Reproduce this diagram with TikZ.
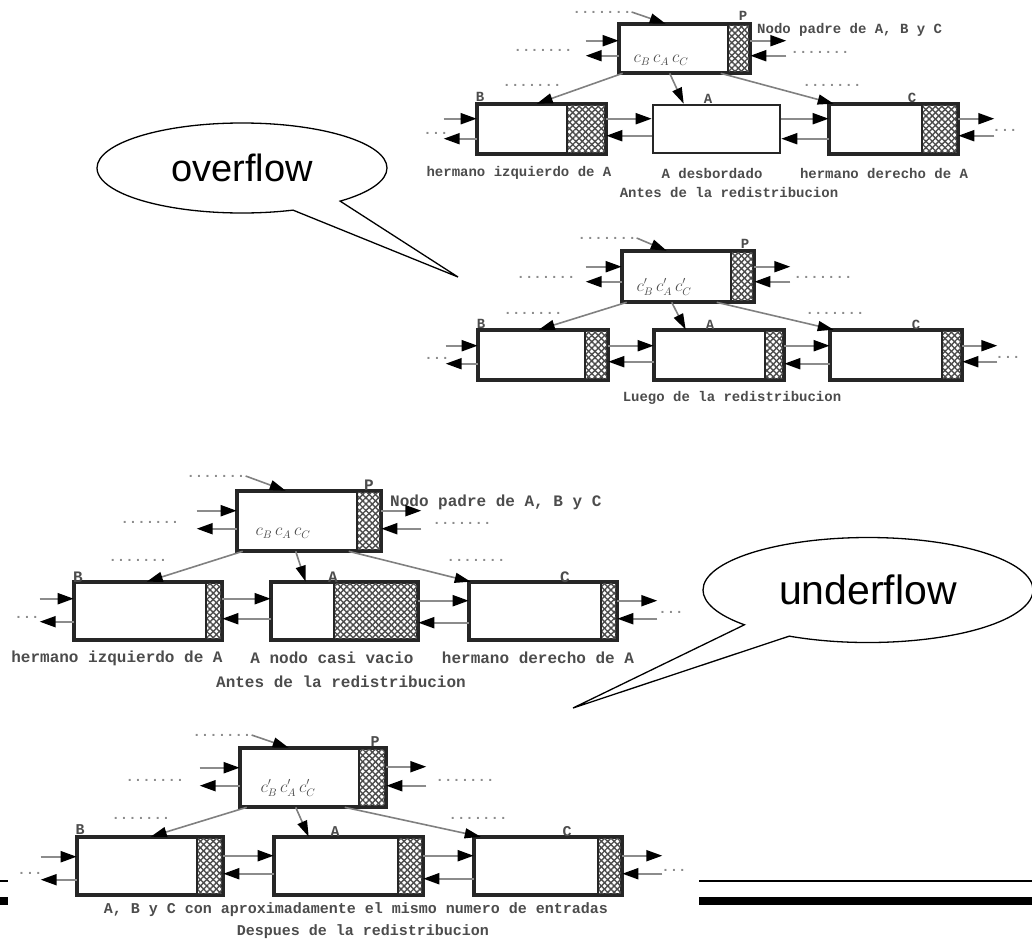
\documentclass[tikz,border=0pt]{standalone}
\usepackage{fontspec}
\newfontfamily\monof{Liberation Mono}
\newfontfamily\arialf{Liberation Sans}
\usetikzlibrary{arrows.meta,patterns.meta,fit,shapes.callouts}
\tikzset{
  boxline/.style={draw=black!85, line width=2.6pt},
  rec/.style={boxline, fill=white, inner sep=0pt},
  lnk/.style={draw=black!45, line width=2pt, -{Triangle[length=16pt,width=11pt,color=black]}},
  ptr/.style={draw=black!50, line width=1.6pt, -{Triangle[length=16pt,width=10pt,color=black]}},
  lbl/.style={font=\monof\bfseries\fontsize{14}{14}\selectfont, text=black!70, inner sep=0pt},
  lblb/.style={font=\monof\bfseries\fontsize{16}{16}\selectfont, text=black!70, inner sep=0pt},
  lblc/.style={font=\monof\bfseries\fontsize{15}{15}\selectfont, text=black!70, inner sep=0pt},
  dotsl/.style={font=\monof\bfseries\fontsize{14}{14}\selectfont, text=black!45, inner sep=0pt},
  cl/.style={font=\fontsize{16}{16}\selectfont, text=black!70, inner sep=0pt},
  bubble/.style={ellipse callout, draw=black, line width=1.3pt, fill=white, inner sep=0pt,
    font=\arialf\fontsize{38}{38}\selectfont},
}
\newcommand\hatchpart[2]{%
  \fill[pattern={Lines[angle=45,distance=4.5pt,line width=1.4pt]},pattern color=black!70] (#1.north -| #2,0) rectangle (#1.south east);
  \fill[pattern={Lines[angle=-45,distance=4.5pt,line width=1.4pt]},pattern color=black!70] (#1.north -| #2,0) rectangle (#1.south east);
  \draw[boxline] (#1.north -| #2,0) -- (#1.south -| #2,0);
  \draw[boxline] (#1.north west) rectangle (#1.south east);}
\newcommand\leftio[4]{%
  \draw[lnk] ([xshift=-#4pt,yshift=-#2pt]#1.north west) -- ([yshift=-#2pt]#1.north west);
  \draw[lnk] ([yshift=-#3pt]#1.north west) -- ([xshift=-#4pt,yshift=-#3pt]#1.north west);}
\newcommand\rightio[4]{%
  \draw[lnk] ([yshift=-#2pt]#1.north east) -- ([xshift=#4pt,yshift=-#2pt]#1.north east);
  \draw[lnk] ([xshift=#4pt,yshift=-#3pt]#1.north east) -- ([yshift=-#3pt]#1.north east);}
\newcommand\betweenio[4]{%
  \draw[lnk] ([yshift=-#3pt]#1.north east) -- ([yshift=-#3pt]#2.north west);
  \draw[lnk] ([yshift=-#4pt]#2.north west) -- ([yshift=-#4pt]#1.north east);}
\begin{document}
\begin{tikzpicture}[x=1pt,y=-1pt]
\useasboundingbox (0,0) rectangle (1032,940);

% ================= Diagram 1 =================
\node[rec, fit={(620,25) (749,72)}] (p1) {};
\node[rec, fit={(478,105) (605,153)}] (b1) {};
\node[rec, fit={(653,105) (780,153)}] (a1) {};
\node[rec, fit={(830,105) (957,153)}] (c1) {};
\hatchpart{p1}{728}
\hatchpart{b1}{567}
\hatchpart{c1}{922}
\node[lbl] (p1l) at (743,16) {P};
\node[lbl, anchor=west] (p1t) at (757,30) {Nodo padre de A, B y C};
\node[lbl] (b1l) at (480,97) {B};
\node[lbl] (a1l) at (708,99) {A};
\node[lbl] (c1l) at (912,98) {C};
\node[cl] (p1c) at (661,60) {$c_B\,c_A\,c_C$};
\node[dotsl] (d1a) at (602,12) {.......};
\node[dotsl] (d1b) at (543,50) {.......};
\node[dotsl] (d1c) at (820,52) {.......};
\node[dotsl] (d1d) at (532,85) {.......};
\node[dotsl] (d1e) at (832,85) {.......};
\node[dotsl] (d1f) at (436,133) {...};
\node[dotsl] (d1g) at (1005,130) {...};
\draw[ptr] (d1a.east) -- ([xshift=47pt]p1.north west);
\leftio{p1}{17}{32}{33}
\rightio{p1}{17}{32}{36}
\leftio{b1}{15}{35}{33}
\betweenio{b1}{a1}{15}{32}
\betweenio{a1}{c1}{15}{35}
\rightio{c1}{15}{32}{36}
\draw[ptr] ([xshift=4pt]p1.south west) -- ([xshift=60pt]b1.north west);
\draw[ptr] ([xshift=51pt]p1.south west) -- ([xshift=32pt]a1.north west);
\draw[ptr] ([xshift=102pt]p1.south west) -- ([xshift=5pt]c1.north west);
\node[lbl] (cap1a) at (519,173) {hermano izquierdo de A};
\node[lbl] (cap1b) at (712,173) {A desbordado};
\node[lbl] (cap1c) at (884,173) {hermano derecho de A};
\node[lbl] (cap1d) at (729,192) {Antes de la redistribucion};

% ================= Diagram 2 =================
\node[rec, fit={(623,252) (753,301)}] (p2) {};
\node[rec, fit={(479,331) (607,379)}] (b2) {};
\node[rec, fit={(655,331) (783,379)}] (a2) {};
\node[rec, fit={(831,331) (961,379)}] (c2) {};
\hatchpart{p2}{731}
\hatchpart{b2}{585}
\hatchpart{a2}{765}
\hatchpart{c2}{942}
\node[lbl] (p2l) at (745,244) {P};
\node[lbl] (b2l) at (481,324) {B};
\node[lbl] (a2l) at (710,325) {A};
\node[lbl] (c2l) at (916,325) {C};
\node[cl] (p2c) at (664,287) {$c'_B\,c'_A\,c'_C$};
\node[dotsl] (d2a) at (607,238) {.......};
\node[dotsl] (d2b) at (546,277) {.......};
\node[dotsl] (d2c) at (823,277) {.......};
\node[dotsl] (d2d) at (533,313) {.......};
\node[dotsl] (d2e) at (835,313) {.......};
\node[dotsl] (d2f) at (437,358) {...};
\node[dotsl] (d2g) at (1008,357) {...};
\draw[ptr] (d2a.east) -- ([xshift=45pt]p2.north west);
\leftio{p2}{16}{31}{36}
\rightio{p2}{16}{31}{36}
\leftio{b2}{16}{34}{32}
\betweenio{b2}{a2}{16}{32}
\betweenio{a2}{c2}{16}{34}
\rightio{c2}{16}{32}{35}
\draw[ptr] ([xshift=5pt]p2.south west) -- ([xshift=61pt]b2.north west);
\draw[ptr] ([xshift=50pt]p2.south west) -- ([xshift=32pt]a2.north west);
\draw[ptr] ([xshift=95pt]p2.south west) -- ([xshift=4pt]c2.north west);
\node[lbl] (cap2) at (732,398) {Luego de la redistribucion};

% ================= overflow bubble =================
\node[bubble, minimum width=290pt, minimum height=90pt,
  callout absolute pointer={(458,277)}, callout pointer arc=22] (ov) at (242,168) {overflow};

% ================= Diagram 3 =================
\node[rec, fit={(238,492) (380,550)}] (p3) {};
\node[rec, fit={(75,583) (221,639)}] (b3) {};
\node[rec, fit={(272,583) (417,639)}] (a3) {};
\node[rec, fit={(470,583) (616,639)}] (c3) {};
\hatchpart{p3}{357}
\hatchpart{b3}{206}
\hatchpart{a3}{334}
\hatchpart{c3}{601}
\node[lblb] (p3l) at (369,485) {P};
\node[lblb, anchor=west] (p3t) at (390,502) {Nodo padre de A, B y C};
\node[lblb] (b3l) at (78,577) {B};
\node[lblb] (a3l) at (333,577) {A};
\node[lblb] (c3l) at (565,577) {C};
\node[cl] (p3c) at (283,533) {$c_B\,c_A\,c_C$};
\node[dotsl] (d3a) at (216,476) {.......};
\node[dotsl] (d3b) at (150,522) {.......};
\node[dotsl] (d3c) at (462,523) {.......};
\node[dotsl] (d3d) at (138,560) {.......};
\node[dotsl] (d3e) at (476,560) {.......};
\node[dotsl] (d3f) at (27,617) {...};
\node[dotsl] (d3g) at (671,612) {...};
\draw[ptr] (d3a.east) -- ([xshift=49pt]p3.north west);
\leftio{p3}{20}{38}{40}
\rightio{p3}{20}{38}{40}
\leftio{b3}{17}{40}{34}
\betweenio{b3}{a3}{17}{37}
\betweenio{a3}{c3}{19}{41}
\rightio{c3}{19}{37}{40}
\draw[ptr] ([xshift=6pt]p3.south west) -- ([xshift=73pt]b3.north west);
\draw[ptr] ([xshift=59pt]p3.south west) -- ([xshift=35pt]a3.north west);
\draw[ptr] ([xshift=112pt]p3.south west) -- ([xshift=2pt]c3.north west);
\node[lblb] (cap3a) at (117,658) {hermano izquierdo de A};
\node[lblb] (cap3b) at (332,658) {A nodo casi vacio};
\node[lblb] (cap3c) at (538,658) {hermano derecho de A};
\node[lblb] (cap3d) at (341,682) {Antes de la redistribucion};

% ================= underflow bubble =================
\node[bubble, font=\arialf\fontsize{41}{41}\selectfont, minimum width=330pt, minimum height=105pt,
  callout absolute pointer={(573,708)}, callout pointer arc=20] (un) at (868,590) {underflow};

% ================= Diagram 4 =================
\node[rec, fit={(241,749) (385,806)}] (p4) {};
\node[rec, fit={(78,838) (222,894)}] (b4) {};
\node[rec, fit={(275,838) (422,894)}] (a4) {};
\node[rec, fit={(475,838) (621,894)}] (c4) {};
\hatchpart{p4}{359}
\hatchpart{b4}{197}
\hatchpart{a4}{398}
\hatchpart{c4}{598}
\node[lblc] (p4l) at (375,742) {P};
\node[lblc] (b4l) at (80,830) {B};
\node[lblc] (a4l) at (335,832) {A};
\node[lblc] (c4l) at (567,832) {C};
\node[cl] (p4c) at (288,788) {$c'_B\,c'_A\,c'_C$};
\node[dotsl] (d4a) at (222,735) {.......};
\node[dotsl] (d4b) at (155,780) {.......};
\node[dotsl] (d4c) at (465,780) {.......};
\node[dotsl] (d4d) at (141,818) {.......};
\node[dotsl] (d4e) at (478,818) {.......};
\node[dotsl] (d4f) at (30,873) {...};
\node[dotsl] (d4g) at (674,870) {...};
\draw[ptr] (d4a.east) -- ([xshift=49pt]p4.north west);
\leftio{p4}{20}{38}{40}
\rightio{p4}{19}{38}{40}
\leftio{b4}{20}{43}{36}
\betweenio{b4}{a4}{19}{37}
\betweenio{a4}{c4}{19}{42}
\rightio{c4}{19}{37}{40}
\draw[ptr] ([xshift=7pt]p4.south west) -- ([xshift=74pt]b4.north west);
\draw[ptr] ([xshift=56pt]p4.south west) -- ([xshift=35pt]a4.north west);
\draw[ptr] ([xshift=105pt]p4.south west) -- ([xshift=7pt]c4.north west);
\node[lblc] (cap4a) at (356,910) {A, B y C con aproximadamente el mismo numero de entradas};
\node[lblc] (cap4b) at (363,932) {Despues de la redistribucion};

% ================= bottom rules =================
\draw[line width=1.5pt] (0,881) -- (8,881);
\fill (0,897) rectangle (8,905);
\draw[line width=1.5pt] (699,881) -- (1032,881);
\fill (699,897) rectangle (1032,905);
\end{tikzpicture}
\end{document}
